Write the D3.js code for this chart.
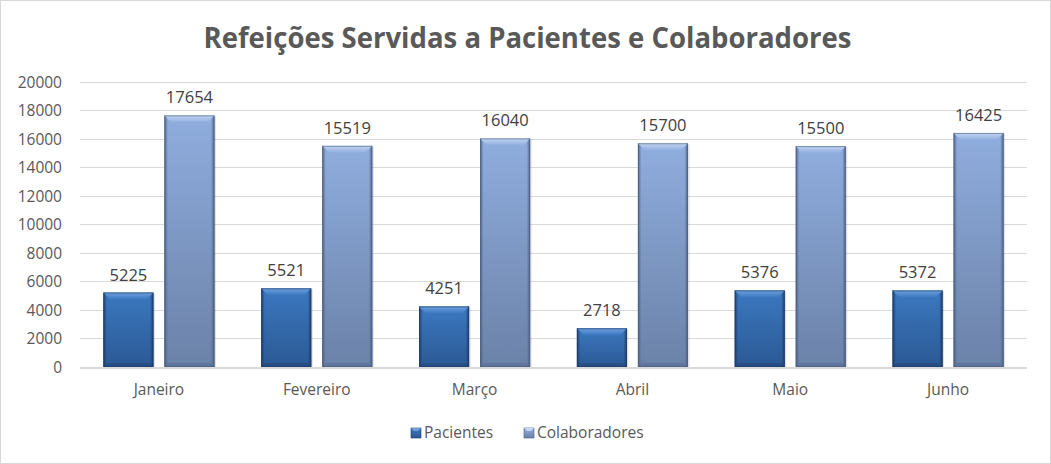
<!DOCTYPE html>
<html><head><meta charset="utf-8">
<script src="https://cdn.jsdelivr.net/npm/d3@7"></script>
<style>
html,body{margin:0;padding:0;background:#fff;}
svg{display:block;font-family:"Open Sans","Noto Sans",sans-serif;}
</style></head>
<body><svg id="c" width="1051" height="464"></svg>
<script>
const title = "Refeições Servidas a Pacientes e Colaboradores";
const months = ["Janeiro","Fevereiro","Março","Abril","Maio","Junho"];
const seriesNames = ["Pacientes","Colaboradores"];
const pacientes = [5225,5521,4251,2718,5376,5372];
const colaboradores = [17654,15519,16040,15700,15500,16425];
const yTicks = [0,2000,4000,6000,8000,10000,12000,14000,16000,18000,20000];

const svg = d3.select("#c");
const W = 1051, H = 464;
const m = {left:80, right:24, top:82, bottom:97};
const x0 = d3.scaleBand().domain(months).range([m.left, W-m.right]).paddingInner(0).paddingOuter(0);
const x1 = d3.scaleBand().domain(seriesNames).range([0, x0.bandwidth()]).paddingInner(0.18).paddingOuter(0.383);
const y = d3.scaleLinear().domain([0,20000]).range([H-m.bottom, m.top]);

// border
svg.append("rect").attr("x",0.5).attr("y",0.5).attr("width",W-1).attr("height",H-1)
  .attr("fill","#fff").attr("stroke","#d9d9d9");

const defs = svg.append("defs");
const pal = {
  Pacientes:{top:"#3b78c0", bot:"#2b5994", edge:"#1c3a66", hi:"#6fa0dc"},
  Colaboradores:{top:"#8fadde", bot:"#6b82a8", edge:"#4a5d80", hi:"#c3d6f2"}
};
seriesNames.forEach((s,i)=>{
  const g = defs.append("linearGradient").attr("id","g"+i).attr("x1",0).attr("y1",0).attr("x2",0).attr("y2",1);
  g.append("stop").attr("offset","0%").attr("stop-color",pal[s].top);
  g.append("stop").attr("offset","100%").attr("stop-color",pal[s].bot);
  const h = defs.append("linearGradient").attr("id","h"+i).attr("x1",0).attr("y1",0).attr("x2",1).attr("y2",0);
  h.append("stop").attr("offset","0%").attr("stop-color",pal[s].edge).attr("stop-opacity",0.9);
  h.append("stop").attr("offset","7%").attr("stop-color",pal[s].edge).attr("stop-opacity",0);
  h.append("stop").attr("offset","93%").attr("stop-color",pal[s].edge).attr("stop-opacity",0);
  h.append("stop").attr("offset","100%").attr("stop-color",pal[s].edge).attr("stop-opacity",0.9);
  const t = defs.append("linearGradient").attr("id","t"+i).attr("x1",0).attr("y1",0).attr("x2",0).attr("y2",1);
  t.append("stop").attr("offset","0%").attr("stop-color",pal[s].hi);
  t.append("stop").attr("offset","100%").attr("stop-color",pal[s].top);
});

// title
svg.append("text").attr("x",W/2+2).attr("y",48).attr("text-anchor","middle")
  .attr("font-size",29).attr("font-weight","bold").attr("fill","#595959")
  .attr("font-family","'Open Sans',sans-serif").attr("textLength",648).attr("lengthAdjust","spacingAndGlyphs")
  .text(title);

// gridlines
svg.append("g").selectAll("line").data(yTicks.filter(d=>d>0)).join("line")
  .attr("x1",m.left).attr("x2",W-m.right).attr("y1",d=>y(d)).attr("y2",d=>y(d))
  .attr("stroke","#d9d9d9").attr("stroke-width",1).attr("shape-rendering","crispEdges");

// y axis labels
const ya = svg.append("g").attr("transform",`translate(${m.left-18},0)`)
  .call(d3.axisLeft(y).tickValues(yTicks).tickSize(0).tickPadding(0).tickFormat(d3.format("d")));
ya.select(".domain").remove();
ya.selectAll("text").attr("font-size",15.5).attr("fill","#595959").attr("font-family","'Open Sans',sans-serif").attr("dy","0.35em");

// bars
const data = months.map((mo,i)=>({mo, vals:[{s:"Pacientes",v:pacientes[i],k:0},{s:"Colaboradores",v:colaboradores[i],k:1}]}));
const groups = svg.append("g").selectAll("g").data(data).join("g")
  .attr("transform",d=>`translate(${x0(d.mo)},0)`);
const bars = groups.selectAll("g").data(d=>d.vals).join("g");
const bw = x1.bandwidth();
bars.each(function(d){
  const g = d3.select(this);
  const bx = x1(d.s), by = y(d.v), bh = y(0)-y(d.v);
  g.append("rect").attr("x",bx+1.5).attr("y",by+1).attr("width",bw).attr("height",bh-1).attr("fill","#000").attr("opacity",0.12);
  g.append("rect").attr("x",bx).attr("y",by).attr("width",bw).attr("height",bh).attr("fill",`url(#g${d.k})`);
  g.append("rect").attr("x",bx).attr("y",by).attr("width",bw).attr("height",bh).attr("fill",`url(#h${d.k})`);
  const bv = 7;
  g.append("path").attr("d",`M${bx},${by}L${bx+bw},${by}L${bx+bw-bv},${by+bv}L${bx+bv},${by+bv}Z`).attr("fill",`url(#t${d.k})`);
  g.append("path").attr("d",`M${bx},${by+bh}L${bx+bw},${by+bh}L${bx+bw-4},${by+bh-4}L${bx+4},${by+bh-4}Z`).attr("fill",pal[d.s].edge).attr("opacity",0.35);
  g.append("rect").attr("x",bx+0.5).attr("y",by+0.5).attr("width",bw-1).attr("height",bh-1).attr("fill","none").attr("stroke",pal[d.s].edge).attr("stroke-opacity",0.6);
  g.append("text").attr("x",bx+bw/2).attr("y",by-12).attr("text-anchor","middle")
    .attr("font-size",16.5).attr("fill","#404040").attr("font-family","'Open Sans',sans-serif").text(d.v);
});

// x axis line
svg.append("line").attr("x1",m.left).attr("x2",W-m.right).attr("y1",y(0)+1).attr("y2",y(0)+1)
  .attr("stroke","#d9d9d9").attr("stroke-width",2);

// x labels
const xa = svg.append("g").attr("transform",`translate(0,${y(0)})`)
  .call(d3.axisBottom(x0).tickSize(0).tickPadding(17));
xa.select(".domain").remove();
xa.selectAll("text").attr("font-size",15.5).attr("fill","#595959").attr("font-family","'Open Sans',sans-serif");

// legend
const leg = svg.append("g");
const legX = [411, 524];
seriesNames.forEach((s,i)=>{
  const lg = leg.append("g").attr("transform",`translate(${legX[i]},428)`);
  lg.append("rect").attr("x",0).attr("y",0).attr("width",10).attr("height",10).attr("fill",`url(#g${i})`).attr("stroke",pal[s].edge).attr("stroke-width",0.6);
  lg.append("path").attr("d","M0,0L10,0L7,3L3,3Z").attr("fill",pal[s].hi);
  lg.append("text").attr("x",13).attr("y",5).attr("dy","0.35em").attr("font-size",15.5).attr("fill","#595959")
    .attr("font-family","'Open Sans',sans-serif").text(s);
});
</script></body></html>
